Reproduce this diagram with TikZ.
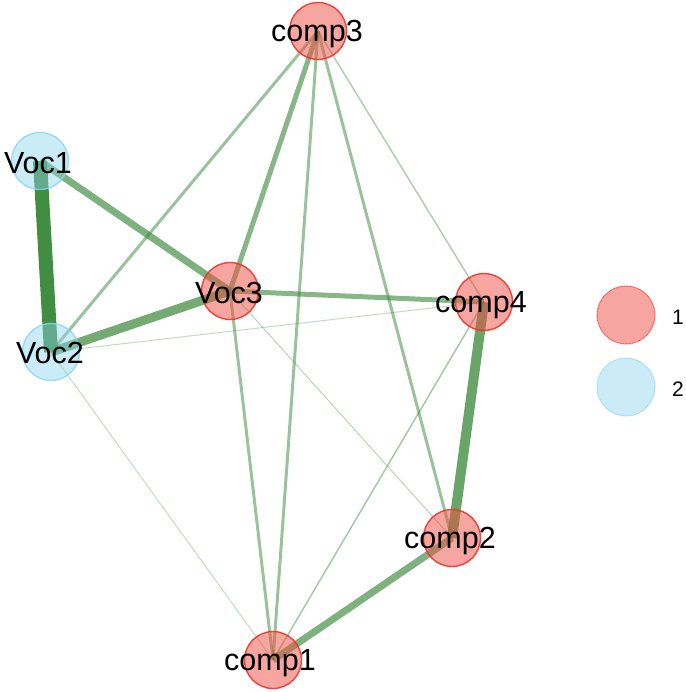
\documentclass[tikz,border=0pt]{standalone}
\usepackage{fontspec}
\setmainfont{Liberation Sans}
\pgfdeclarelayer{edgelayer}
\pgfsetlayers{edgelayer,main}
\definecolor{edgegreen}{RGB}{55,135,55}
\definecolor{redfill}{RGB}{240,75,65}
\definecolor{redline}{RGB}{240,50,40}
\definecolor{bluefill}{RGB}{140,210,235}
\definecolor{blueline}{RGB}{135,215,240}
\tikzset{
  vred/.style={circle,minimum size=57pt,inner sep=0pt,fill=redfill,fill opacity=0.5,draw=redline,line width=1.4pt,draw opacity=0.9},
  vblue/.style={circle,minimum size=57pt,inner sep=0pt,fill=bluefill,fill opacity=0.45,draw=blueline,line width=1.4pt,draw opacity=0.8},
  vtext/.style={inner sep=0pt,font=\fontsize{30.5}{36}\selectfont},
  lred/.style={circle,minimum size=58pt,inner sep=0pt,fill=redfill,fill opacity=0.5,draw=redline,line width=1pt,draw opacity=0.7,dash pattern=on 1pt off 0.5pt},
  lblue/.style={circle,minimum size=58pt,inner sep=0pt,fill=bluefill,fill opacity=0.45,draw=blueline,line width=1pt,draw opacity=0.7,dash pattern=on 1pt off 0.5pt},
  ltext/.style={font=\fontsize{21}{24}\selectfont,inner sep=0pt},
  ed/.style n args={2}{draw=edgegreen,line width=#1pt,draw opacity=#2}
}
\begin{document}
\begin{tikzpicture}[x=1pt,y=-1pt]
\useasboundingbox (0,0) rectangle (685,692);
% nodes
\node[vblue] (Voc1) at (40,161) {};
\node[vblue] (Voc2) at (51,352) {};
\node[vred] (Voc3) at (230,291) {};
\node[vred] (comp3) at (318,31) {};
\node[vred] (comp4) at (484,302) {};
\node[vred] (comp2) at (452,538) {};
\node[vred] (comp1) at (273,660) {};
\node[vtext] (Voc1t) at (38,163) {Voc1};
\node[vtext] (Voc2t) at (50,353) {Voc2};
\node[vtext] (Voc3t) at (229,293) {Voc3};
\node[vtext] (comp3t) at (317,34) {comp3};
\node[vtext] (comp4t) at (481,305) {comp4};
\node[vtext] (comp2t) at (450,541) {comp2};
\node[vtext] (comp1t) at (270,663) {comp1};
% legend
\node[lred] (leg1) at (626,315) {};
\node[lblue] (leg2) at (626,387) {};
\node[ltext] (leg1t) at (678,317) {1};
\node[ltext] (leg2t) at (678,389) {2};
% edges
\begin{pgfonlayer}{edgelayer}
\draw[ed={14}{0.95}] (Voc1.center) -- (Voc2.center);
\draw[ed={9}{0.7}] (Voc2.center) -- (Voc3.center);
\draw[ed={7}{0.65}] (Voc1.center) -- (Voc3.center);
\draw[ed={10}{0.75}] (comp4.center) -- (comp2.center);
\draw[ed={7}{0.65}] (comp2.center) -- (comp1.center);
\draw[ed={5}{0.6}] (Voc3.center) -- (comp4.center);
\draw[ed={5}{0.6}] (Voc3.center) -- (comp3.center);
\draw[ed={3}{0.5}] (Voc2.center) -- (comp3.center);
\draw[ed={3}{0.5}] (Voc3.center) -- (comp1.center);
\draw[ed={3}{0.5}] (comp3.center) -- (comp1.center);
\draw[ed={3}{0.5}] (comp3.center) -- (comp2.center);
\draw[ed={1.5}{0.4}] (comp3.center) -- (comp4.center);
\draw[ed={1.5}{0.45}] (comp4.center) -- (comp1.center);
\draw[ed={1}{0.35}] (Voc3.center) -- (comp2.center);
\draw[ed={1}{0.3}] (Voc2.center) -- (comp4.center);
\draw[ed={1}{0.3}] (Voc2.center) -- (comp1.center);
\end{pgfonlayer}
\end{tikzpicture}
\end{document}
